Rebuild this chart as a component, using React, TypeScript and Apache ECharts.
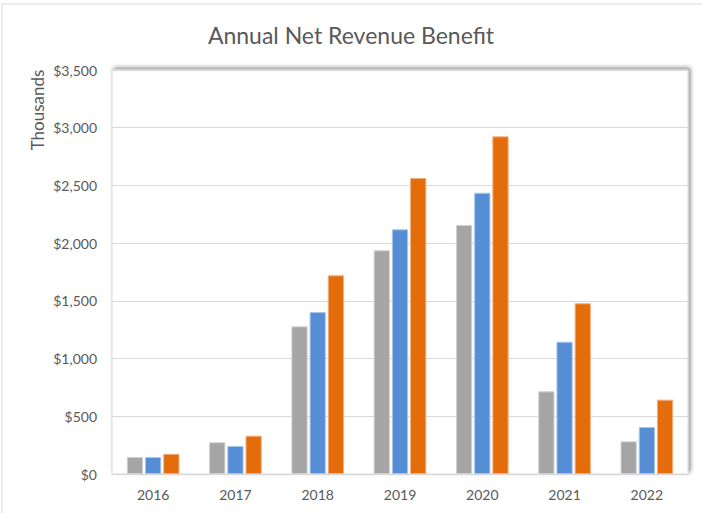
import React, { useEffect, useRef } from "react";
import * as echarts from "echarts";

const title = "Annual Net Revenue Benefit";
const yAxisTitle = "Thousands";
const years = ["2016", "2017", "2018", "2019", "2020", "2021", "2022"];
const seriesGray = [147, 275, 1279, 1938, 2157, 716, 283];
const seriesBlue = [147, 243, 1403, 2120, 2437, 1146, 407];
const seriesOrange = [175, 332, 1721, 2564, 2925, 1479, 644];
const yTicks = { min: 0, max: 3500, interval: 500 };

const FONT = "Lato, 'Open Sans', sans-serif";

export default function App() {
  const ref = useRef<HTMLDivElement>(null);
  useEffect(() => {
    if (!ref.current) return;
    const chart = echarts.init(ref.current, null, { renderer: "svg" });
    const mk = (name: string, data: number[], color: string, border: string) => ({
      name,
      type: "bar",
      data,
      barGap: "12%",
      barCategoryGap: "36%",
      itemStyle: { color, borderColor: border, borderWidth: 1 },
    });
    chart.setOption({
      animation: false,
      backgroundColor: "#ffffff",
      textStyle: { fontFamily: FONT },
      title: {
        text: title,
        left: "center",
        top: 18,
        textStyle: { fontFamily: FONT, fontSize: 23, fontWeight: "normal", color: "#595959" },
      },
      graphic: [
        {
          type: "rect",
          shape: { x: 2, y: 4, width: 720, height: 530 },
          style: { fill: "none", stroke: "#d9d9d9", lineWidth: 1 },
          silent: true,
        },
        {
          type: "text",
          x: 37,
          y: 110,
          rotation: Math.PI / 2,
          style: {
            text: yAxisTitle,
            fontFamily: FONT,
            fontSize: 17,
            fill: "#595959",
            textAlign: "center",
            textVerticalAlign: "middle",
          },
        },
      ],
      grid: {
        left: 112,
        top: 70,
        right: 14,
        bottom: 39,
        show: true,
        backgroundColor: "#ffffff",
        borderColor: "#d9d9d9",
        borderWidth: 1,
        shadowColor: "rgba(0,0,0,0.45)",
        shadowBlur: 4,
        shadowOffsetX: 2,
        shadowOffsetY: -2,
      },
      xAxis: {
        type: "category",
        data: years,
        axisLine: { show: true, lineStyle: { color: "#d9d9d9", width: 1 } },
        axisTick: { show: false },
        axisLabel: { color: "#595959", fontSize: 14, margin: 13, fontFamily: FONT },
      },
      yAxis: {
        type: "value",
        min: yTicks.min,
        max: yTicks.max,
        interval: yTicks.interval,
        axisLine: { show: false },
        axisTick: { show: false },
        splitLine: { lineStyle: { color: "#d9d9d9", width: 1 } },
        axisLabel: {
          color: "#595959",
          fontSize: 14,
          margin: 15,
          fontFamily: FONT,
          formatter: (v: number) => "$" + v.toLocaleString("en-US"),
        },
      },
      series: [
        mk("Series 1", seriesGray, "#a5a5a5", "#d0d0d0"),
        mk("Series 2", seriesBlue, "#558ed5", "#a9c6ea"),
        mk("Series 3", seriesOrange, "#e46c0a", "#f2b07e"),
      ],
    });
    return () => chart.dispose();
  }, []);
  return (
    <div
      ref={ref}
      style={{ position: "fixed", left: 0, top: 0, width: 702, height: 513 }}
    />
  );
}
